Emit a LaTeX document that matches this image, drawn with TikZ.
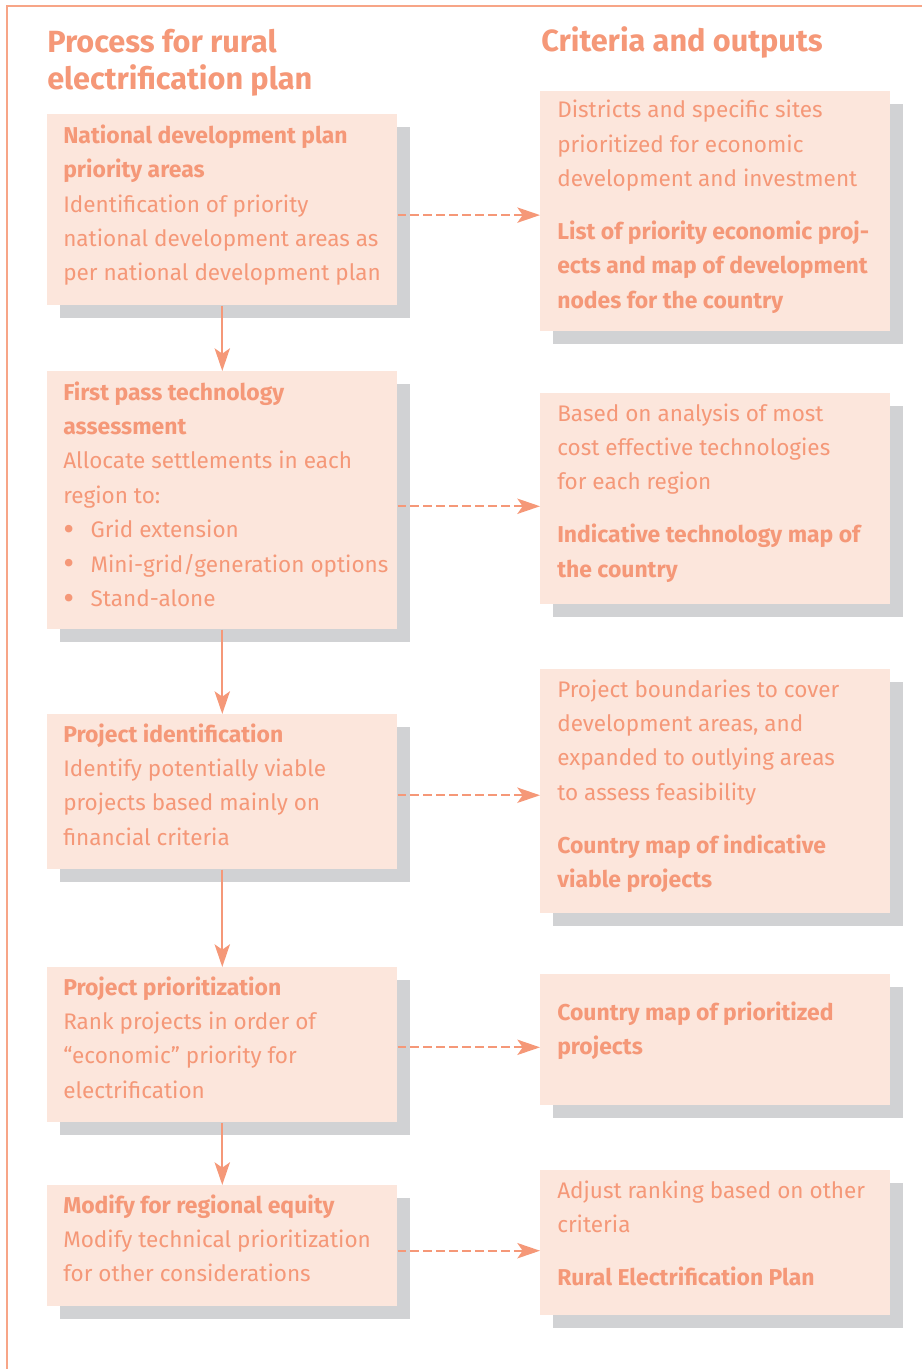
\documentclass[tikz,border=0pt]{standalone}
\usepackage{fontspec}
\setmainfont{Fira Sans}
\usetikzlibrary{arrows.meta,shadows}
\definecolor{txtc}{RGB}{245,152,120}
\definecolor{boxc}{RGB}{252,230,220}
\definecolor{shadc}{RGB}{209,210,212}
\definecolor{framec}{RGB}{247,165,135}
\newcommand\myline[1]{\hbox{#1}}
\newcommand\bodyfs{\fontsize{16.9pt}{25.8pt}\selectfont}
\newcommand\bd{\fontsize{17.2pt}{25.8pt}\selectfont\bfseries}
\newcommand\titlefs{\fontsize{23.0pt}{27.75pt}\selectfont}
\newcommand\bul{\makebox[20.5pt][l]{\raisebox{-2.2pt}{\fontsize{25pt}{25pt}\selectfont •}}}
\tikzset{
  box/.style={fill=boxc, draw=none, inner sep=0pt, anchor=north west,
    minimum width=262.5pt,
    general shadow={fill=shadc, shadow xshift=9.9pt, shadow yshift=-9.4pt}},
  txt/.style={text=txtc, inner sep=0pt, anchor=base west, font=\bodyfs},
  ttl/.style={text=txtc, inner sep=0pt, anchor=base west, font=\titlefs\bfseries},
  vflow/.style={draw=txtc, line width=1.5pt, -{Stealth[length=17pt,width=11.5pt,inset=4pt]}},
  hflow/.style={draw=txtc, line width=1.5pt, dash pattern=on 6.5pt off 3.2pt,
    -{Stealth[length=17pt,width=11.5pt,inset=4pt]}},
  frame/.style={draw=framec, line width=1.1pt}
}
\begin{document}
\begin{tikzpicture}[x=0.75pt,y=-0.75pt]
\useasboundingbox (0,0) rectangle (922,1369);
% frame
\coordinate (fa) at (922,6);
\coordinate (fb) at (7,6);
\coordinate (fc) at (7,1369);
\draw[frame] (fa) -- (fb) -- (fc);
% titles
\node[ttl] (tl) at (47,53) {\vtop{\baselineskip=27.75pt\myline{Process for rural}\myline{electrification plan}}};
\node[ttl] (tr) at (541,52) {Criteria and outputs};
% left boxes
\node[box, minimum height=143.25pt] (b1) at (47,114) {};
\node[box, minimum height=193.5pt] (b2) at (47,371) {};
\node[box, minimum height=116.25pt] (b3) at (47,714) {};
\node[box, minimum height=116.25pt] (b4) at (47,967) {};
\node[box, minimum height=90.75pt] (b5) at (47,1185) {};
% right boxes
\node[box, minimum height=180pt] (r1) at (540,91) {};
\node[box, minimum height=158.25pt] (r2) at (540,393) {};
\node[box, minimum height=183pt] (r3) at (540,669) {};
\node[box, minimum height=98.25pt] (r4) at (540,974) {};
\node[box, minimum height=108.75pt] (r5) at (540,1170) {};
% left texts
\node[txt] (t1) at ([shift={(16,29.3)}]b1.north west) {\vtop{\baselineskip=25.8pt
  \myline{\bd National development plan}
  \myline{\bd priority areas}
  \myline{Identification of priority}
  \myline{national development areas as}
  \myline{per national development plan}}};
\node[txt] (t2) at ([shift={(16,29)}]b2.north west) {\vtop{\baselineskip=25.8pt
  \myline{\bd First pass technology}
  \myline{\bd assessment}
  \myline{Allocate settlements in each}
  \myline{region to:}
  \myline{\bul Grid extension}
  \myline{\bul Mini-grid/generation options}
  \myline{\bul Stand-alone}}};
\node[txt] (t3) at ([shift={(16,28)}]b3.north west) {\vtop{\baselineskip=25.8pt
  \myline{\bd Project identification}
  \myline{Identify potentially viable}
  \myline{projects based mainly on}
  \myline{financial criteria}}};
\node[txt] (t4) at ([shift={(16,28)}]b4.north west) {\vtop{\baselineskip=25.8pt
  \myline{\bd Project prioritization}
  \myline{Rank projects in order of}
  \myline{“economic” priority for}
  \myline{electrification}}};
\node[txt] (t5) at ([shift={(16,28)}]b5.north west) {\vtop{\baselineskip=25.8pt
  \myline{\bd Modify for regional equity}
  \myline{Modify technical prioritization}
  \myline{for other considerations}}};
% right texts
\node[txt] (u1) at ([shift={(17,27)}]r1.north west) {\vtop{\baselineskip=25.8pt
  \myline{Districts and specific sites}
  \myline{prioritized for economic}
  \myline{development and investment}
  \vskip 13.8pt
  \myline{\bd List of priority economic proj-}
  \myline{\bd ects and map of development}
  \myline{\bd nodes for the country}}};
\node[txt] (u2) at ([shift={(17,28)}]r2.north west) {\vtop{\baselineskip=25.8pt
  \myline{Based on analysis of most}
  \myline{cost effective technologies}
  \myline{for each region}
  \vskip 13.8pt
  \myline{\bd Indicative technology map of}
  \myline{\bd the country}}};
\node[txt] (u3) at ([shift={(17,28)}]r3.north west) {\vtop{\baselineskip=25.8pt
  \myline{Project boundaries to cover}
  \myline{development areas, and}
  \myline{expanded to outlying areas}
  \myline{to assess feasibility}
  \vskip 13.8pt
  \myline{\bd Country map of indicative}
  \myline{\bd viable projects}}};
\node[txt] (u4) at ([shift={(17,46)}]r4.north west) {\vtop{\baselineskip=25.8pt
  \myline{\bd Country map of prioritized}
  \myline{\bd projects}}};
\node[txt] (u5) at ([shift={(17,28)}]r5.north west) {\vtop{\baselineskip=25.8pt
  \myline{Adjust ranking based on other}
  \myline{criteria}
  \vskip 13.8pt
  \myline{\bd Rural Electrification Plan}}};
% vertical flow
\draw[vflow] (b1.south) -- (b2.north);
\draw[vflow] (b2.south) -- (b3.north);
\draw[vflow] (b3.south) -- (b4.north);
\draw[vflow] (b4.south) -- (b5.north);
% horizontal dashed flow
\draw[hflow] ([yshift=-4pt]b1.east) -- ([yshift=-4pt]b1.east -| r1.west);
\draw[hflow] ([yshift=-4.5pt]b2.east) -- ([yshift=-4.5pt]b2.east -| r2.west);
\draw[hflow] ([yshift=-2.6pt]b3.east) -- ([yshift=-2.6pt]b3.east -| r3.west);
\draw[hflow] ([yshift=-1.9pt]b4.east) -- ([yshift=-1.9pt]b4.east -| r4.west);
\draw[hflow] ([yshift=-3.7pt]b5.east) -- ([yshift=-3.7pt]b5.east -| r5.west);
\end{tikzpicture}
\end{document}
